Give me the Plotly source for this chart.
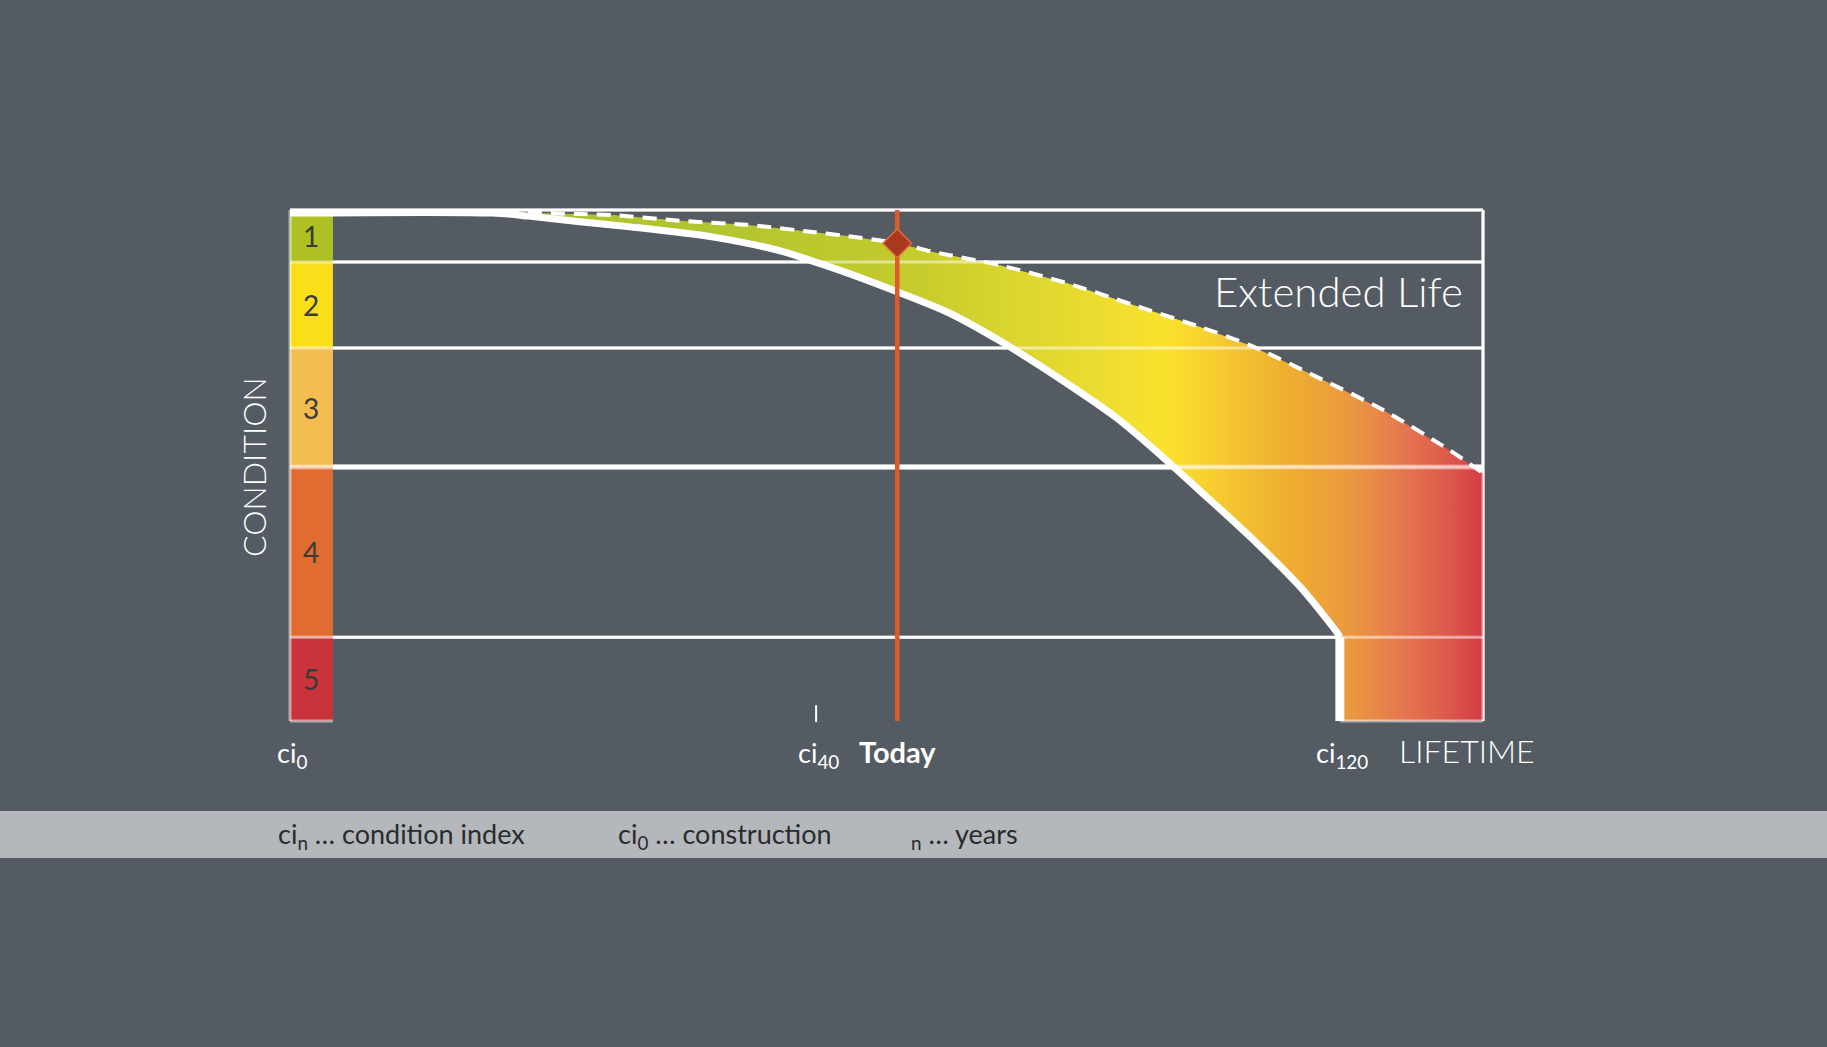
import plotly.graph_objects as go

# ---------------------------------------------------------------------------
# Data: lifetime position (0 = construction, 100 = end of axis) and
# condition depth (0 = top of class 1, 100 = bottom of class 5)
# ---------------------------------------------------------------------------
band_edges = [0, 10.2, 27.0, 50.3, 83.6, 100]
band_labels = ["1", "2", "3", "4", "5"]
band_colors = ["#AEC023", "#F8DF1A", "#F4BD4F", "#E06C32", "#C9343B"]
band_column_width = 3.6

# standard deterioration curve (solid)
service_x = [0, 17.0, 20.0, 24.3, 28.5, 35.5, 41.1, 43.8, 46.7, 50.9, 55.3,
             59.5, 65.1, 69.3, 72.9, 76.3, 80.5, 84.7, 87.8, 88.0, 88.0]
service_y = [0.6, 0.6, 1.2, 2.3, 3.3, 5.3, 8.0, 10.0, 12.3, 16.0, 20.2,
             25.6, 33.9, 40.7, 47.8, 55.0, 64.0, 73.8, 82.8, 83.6, 100]

# extended-life curve (dashed)
extended_x = [18.0, 24.3, 27.1, 33.3, 38.3, 43.8, 46.7, 50.9, 52.2, 53.9, 59.5,
              65.1, 70.7, 76.3, 80.5, 86.1, 91.6, 97.2, 100]
extended_y = [0.4, 0.8, 1.0, 2.2, 2.9, 4.3, 5.1, 6.5, 7.2, 8.2, 10.8,
              14.3, 18.6, 22.9, 26.5, 32.7, 39.1, 47.0, 51.5]

today_x = 50.9
today_condition = 6.5

tick_positions = [0, 44.1, 88.0]
tick_labels = ["ci<sub>0</sub>", "ci<sub>40</sub>", "ci<sub>120</sub>"]

gradient_stops = [0.0, 0.213, 0.401, 0.506, 0.574, 0.626, 0.677, 0.728,
                  0.779, 0.813, 0.865, 0.916, 0.966, 1.0]
gradient_colors = ["#AEC12A", "#B2C52E", "#C2CA2C", "#D8D42E", "#E5D92F",
                   "#F0DE30", "#FAE22C", "#F6CB30", "#F0B530", "#EEAA32",
                   "#EA9840", "#E5784E", "#DC584B", "#D53A45"]

legend_texts = ["ci<sub>n</sub> … condition index",
                "ci<sub>0</sub> … construction",
                "<sub>n</sub> … years"]

# ---------------------------------------------------------------------------
# Page geometry
# ---------------------------------------------------------------------------
W, H = 1827, 1047
BG = "#545B63"
ML, MR, MT, MB = 280, 334, 200, 316
PW, PH = W - ML - MR, H - MT - MB
XPAD = 10 / (1193 / 100)
YPAD = 10 / (511 / 100)


def px_x(px):
    return (px - ML) / PW


def px_y(py):
    return 1 - (py - MT) / PH


FONT = "Lato, 'Open Sans', sans-serif"

fig = go.Figure()

# gradient band between the two curves
fill_x = extended_x + [100, service_x[-1]] + service_x[::-1]
fill_y = extended_y + [100, 100] + service_y[::-1]
fig.add_trace(go.Scatter(
    x=fill_x, y=fill_y, mode="lines", fill="toself",
    line=dict(width=0, color="rgba(0,0,0,0)"),
    fillgradient=dict(type="horizontal", start=extended_x[0], stop=100,
                      colorscale=[[s, c] for s, c in zip(gradient_stops, gradient_colors)]),
    hoverinfo="skip", showlegend=False))

# translucent class boundaries over the coloured areas
ov_x, ov_y = [], []
for e in band_edges[:-1]:
    ov_x += [0, 100, None]
    ov_y += [e, e, None]
ov_x += [0, 0, None, 100, 100, None, 0, band_column_width, None, service_x[-1], 100]
ov_y += [0, 100, None, 0, 100, None, 100, 100, None, 100, 100]
fig.add_trace(go.Scatter(
    x=ov_x, y=ov_y, mode="lines",
    line=dict(color="rgba(255,255,255,0.5)", width=3),
    hoverinfo="skip", showlegend=False))
fig.add_trace(go.Scatter(
    x=[0, 100], y=[band_edges[3]] * 2, mode="lines",
    line=dict(color="rgba(255,255,255,0.35)", width=5),
    hoverinfo="skip", showlegend=False))

# curves: smooth descent, then a straight drop at the end of service life
fig.add_trace(go.Scatter(
    x=service_x[:-1], y=service_y[:-1], mode="lines",
    line=dict(color="white", width=7, shape="spline", smoothing=0.8),
    hoverinfo="skip", showlegend=False))
fig.add_trace(go.Scatter(
    x=service_x[-2:], y=service_y[-2:], mode="lines",
    line=dict(color="white", width=9),
    hoverinfo="skip", showlegend=False))
fig.add_trace(go.Scatter(
    x=extended_x, y=extended_y, mode="lines",
    line=dict(color="white", width=4, dash="14px,9px", shape="spline", smoothing=0.8),
    hoverinfo="skip", showlegend=False))

# today marker
fig.add_trace(go.Scatter(
    x=[today_x, today_x], y=[0, 100], mode="lines",
    line=dict(color="#DF5A2A", width=4.5),
    hoverinfo="skip", showlegend=False))
fig.add_trace(go.Scatter(
    x=[today_x], y=[today_condition], mode="markers",
    marker=dict(symbol="diamond", size=22, color="#A9391C",
                line=dict(color="#E2683F", width=1.5)),
    hoverinfo="skip", showlegend=False))

# tick at ci40
fig.add_trace(go.Scatter(
    x=[tick_positions[1]] * 2, y=[96.9, 100.2], mode="lines",
    line=dict(color="white", width=2),
    hoverinfo="skip", showlegend=False))

shapes = []
# solid white grid and frame (under the coloured areas)
for i, e in enumerate(band_edges[:-1]):
    shapes.append(dict(type="line", layer="below", xref="x", yref="y",
                       x0=0, x1=100, y0=e, y1=e,
                       line=dict(color="white", width=5 if i == 3 else 3)))
shapes.append(dict(type="line", layer="below", xref="x", yref="y",
                   x0=100, x1=100, y0=0, y1=100, line=dict(color="white", width=3)))
# condition class column
for i, c in enumerate(band_colors):
    shapes.append(dict(type="rect", layer="below", xref="x", yref="y",
                       x0=0, x1=band_column_width, y0=band_edges[i], y1=band_edges[i + 1],
                       fillcolor=c, line=dict(width=0)))
# legend strip
shapes.append(dict(type="rect", layer="below", xref="paper", yref="paper",
                   x0=px_x(0), x1=px_x(W), y0=px_y(858), y1=px_y(811),
                   fillcolor="#B4B8BD", line=dict(width=0)))

ann = []
for i, lab in enumerate(band_labels):
    ann.append(dict(x=band_column_width / 2, y=(band_edges[i] + band_edges[i + 1]) / 2,
                    xref="x", yref="y", text=lab, showarrow=False,
                    xanchor="center", yanchor="middle",
                    font=dict(family=FONT, size=28, color="#3A3A3A")))

ann.append(dict(x=px_x(253), y=px_y(467), xref="paper", yref="paper",
                text="CONDITION", textangle=-90, showarrow=False,
                xanchor="center", yanchor="middle",
                font=dict(family=FONT, size=32, color="white", weight=300)))
ann.append(dict(x=98.5, y=15.85, xref="x", yref="y", xanchor="right", yanchor="middle",
                text="Extended Life", showarrow=False,
                font=dict(family=FONT, size=42, color="white", weight=300)))

for xv, lab in zip(tick_positions, tick_labels):
    ann.append(dict(x=xv + 0.2, y=px_y(754), xref="x", yref="paper",
                    xanchor="center", yanchor="middle",
                    text=lab, showarrow=False,
                    font=dict(family=FONT, size=27, color="white")))
ann.append(dict(x=today_x, y=px_y(751), xref="x", yref="paper",
                xanchor="center", yanchor="middle",
                text="Today", showarrow=False,
                font=dict(family=FONT, size=29, color="white", weight=700)))
ann.append(dict(x=px_x(1397), y=px_y(750), xref="paper", yref="paper",
                xanchor="left", yanchor="middle", text="LIFETIME", showarrow=False,
                font=dict(family=FONT, size=32, color="white", weight=300)))

for px, txt in zip([276, 616, 909], legend_texts):
    ann.append(dict(x=px_x(px), y=px_y(835), xref="paper", yref="paper",
                    xanchor="left", yanchor="middle", text=txt, showarrow=False,
                    font=dict(family=FONT, size=27, color="#2B2B2B")))

fig.update_layout(
    width=W, height=H, autosize=False,
    margin=dict(l=ML, r=MR, t=MT, b=MB, pad=0),
    paper_bgcolor=BG, plot_bgcolor=BG,
    xaxis=dict(range=[-XPAD, 100 + XPAD], visible=False, fixedrange=True),
    yaxis=dict(range=[100 + YPAD, -YPAD], visible=False, fixedrange=True),
    shapes=shapes, annotations=ann, showlegend=False,
)

fig.write_html("out.html", config={"displayModeBar": False})
